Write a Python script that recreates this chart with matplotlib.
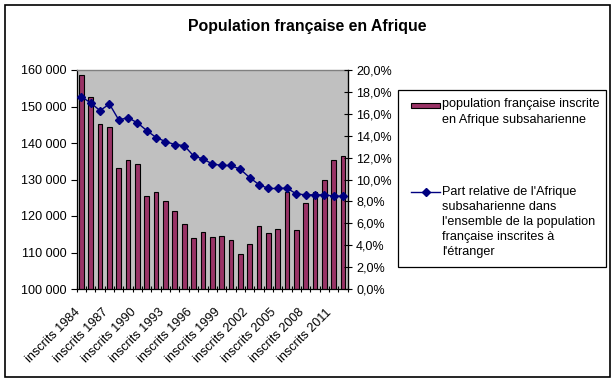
import matplotlib
matplotlib.use("Agg")
import matplotlib.pyplot as plt
from matplotlib.patches import Rectangle
from matplotlib.lines import Line2D
from matplotlib.ticker import FuncFormatter, FixedLocator
from matplotlib.transforms import ScaledTranslation

plt.rcParams['font.family'] = ['Liberation Sans', 'DejaVu Sans']

years = list(range(1984, 2013))
population = [158600, 152500, 145100, 144300, 133100, 135400, 134200, 125400,
              126500, 124100, 121300, 117800, 113900, 115600, 114200, 114500,
              113400, 109600, 112400, 117300, 115300, 116400, 126500, 116100,
              123500, 126500, 129800, 135400, 136400]
share = [17.57, 16.99, 16.29, 16.90, 15.44, 15.65, 15.17, 14.47, 13.83, 13.47,
         13.19, 13.10, 12.16, 11.88, 11.43, 11.28, 11.28, 10.94, 10.18, 9.54,
         9.18, 9.18, 9.21, 8.69, 8.60, 8.60, 8.60, 8.48, 8.48]
share = [s / 100 for s in share]
labels = ["inscrits %d" % y for y in years]

title = "Population française en Afrique"
leg_bar = "population française inscrite\nen Afrique subsaharienne"
leg_line = ("Part relative de l'Afrique\nsubsaharienne dans\n"
            "l'ensemble de la population\nfrançaise inscrites à\nl'étranger")

W, H = 615, 381
fig = plt.figure(figsize=(W / 100, H / 100), dpi=100)

def fx(px):
    return px / W

def fy(py):
    return 1 - py / H

L, R, T, B = 76.7, 347.7, 70.0, 289.0
ax = fig.add_axes([fx(L), fy(B), fx(R) - fx(L), fy(T) - fy(B)])
ax.set_facecolor('#C0C0C0')

bar_color = '#993366'
line_color = '#000080'
FS = 9.1

x = list(range(len(years)))
ax.bar(x, population, width=0.5, color=bar_color, edgecolor='black', linewidth=0.8, zorder=2)
ax.set_xlim(-0.5, len(years) - 0.5)
ax.set_ylim(100000, 160000)
ax.set_yticks(range(100000, 160001, 10000))
ax.yaxis.set_major_formatter(FuncFormatter(lambda v, p: "{:,}".format(int(v)).replace(",", " ")))
ax.tick_params(axis='y', direction='out', length=4, width=0.8, pad=3, labelsize=FS)

# x ticks: labels every 3 categories, tick marks at category boundaries
ax.set_xticks(x[::3])
ax.set_xticklabels(labels[::3])
ax.xaxis.set_minor_locator(FixedLocator([i - 0.5 for i in range(len(years) + 1)]))
ax.tick_params(axis='x', which='major', length=0, pad=15.5, labelsize=FS)
ax.tick_params(axis='x', which='minor', direction='inout', length=5, width=0.8)
shift = ScaledTranslation(-3.5 / 100, 0, fig.dpi_scale_trans)
for lab in ax.get_xticklabels():
    lab.set_rotation(45)
    lab.set_ha('right')
    lab.set_va('center')
    lab.set_rotation_mode('anchor')
    lab.set_transform(lab.get_transform() + shift)

for s in ['left', 'bottom']:
    ax.spines[s].set_color('black')
    ax.spines[s].set_linewidth(0.9)
ax.spines['top'].set_color('#808080')
ax.spines['top'].set_linewidth(1.0)

ax2 = ax.twinx()
ax2.plot(x, share, color=line_color, linewidth=1.0, marker='D', markersize=4.5,
         markerfacecolor=line_color, markeredgecolor=line_color, zorder=3)
ax2.set_ylim(0, 0.20)
ax2.set_yticks([i * 0.02 for i in range(11)])
ax2.yaxis.set_major_formatter(FuncFormatter(lambda v, p: ("%.1f%%" % (v * 100)).replace(".", ",")))
ax2.tick_params(axis='y', direction='inout', length=6, width=0.8, pad=3, labelsize=FS)
ax2.spines['right'].set_color('black')
ax2.spines['right'].set_linewidth(0.9)
ax2.spines['top'].set_visible(False)
ax2.spines['left'].set_visible(False)
ax2.spines['bottom'].set_visible(False)

# Title
fig.text(fx(307.5), fy(26), title, ha='center', va='center', fontsize=11.4, fontweight='bold')

# Legend (manual, Excel-like)
fig.patches.append(Rectangle((fx(398), fy(267)), fx(606) - fx(398), fy(90) - fy(267),
                             transform=fig.transFigure, facecolor='white', edgecolor='black',
                             linewidth=0.9, zorder=5))
fig.patches.append(Rectangle((fx(411), fy(107.7)), fx(440) - fx(411), fy(103.3) - fy(107.7),
                             transform=fig.transFigure, facecolor=bar_color, edgecolor='black',
                             linewidth=0.8, zorder=6))
fig.lines.append(Line2D([fx(411), fx(440)], [fy(192.3), fy(192.3)], transform=fig.transFigure,
                        color=line_color, linewidth=1.0, zorder=6))
fig.lines.append(Line2D([fx(425.5)], [fy(192.3)], transform=fig.transFigure, marker='D',
                        markersize=4.5, color=line_color, zorder=7))
fig.text(fx(442.5), fy(98.5), leg_bar, ha='left', va='top', fontsize=FS, linespacing=1.36, zorder=7)
fig.text(fx(442.5), fy(185.5), leg_line, ha='left', va='top', fontsize=FS, linespacing=1.36, zorder=7)

# Outer chart border
fig.patches.append(Rectangle((fx(5), fy(377)), fx(610) - fx(5), fy(5) - fy(377),
                             transform=fig.transFigure, facecolor='none', edgecolor='black',
                             linewidth=1.2, zorder=8))

fig.savefig("out.png", dpi=100)
